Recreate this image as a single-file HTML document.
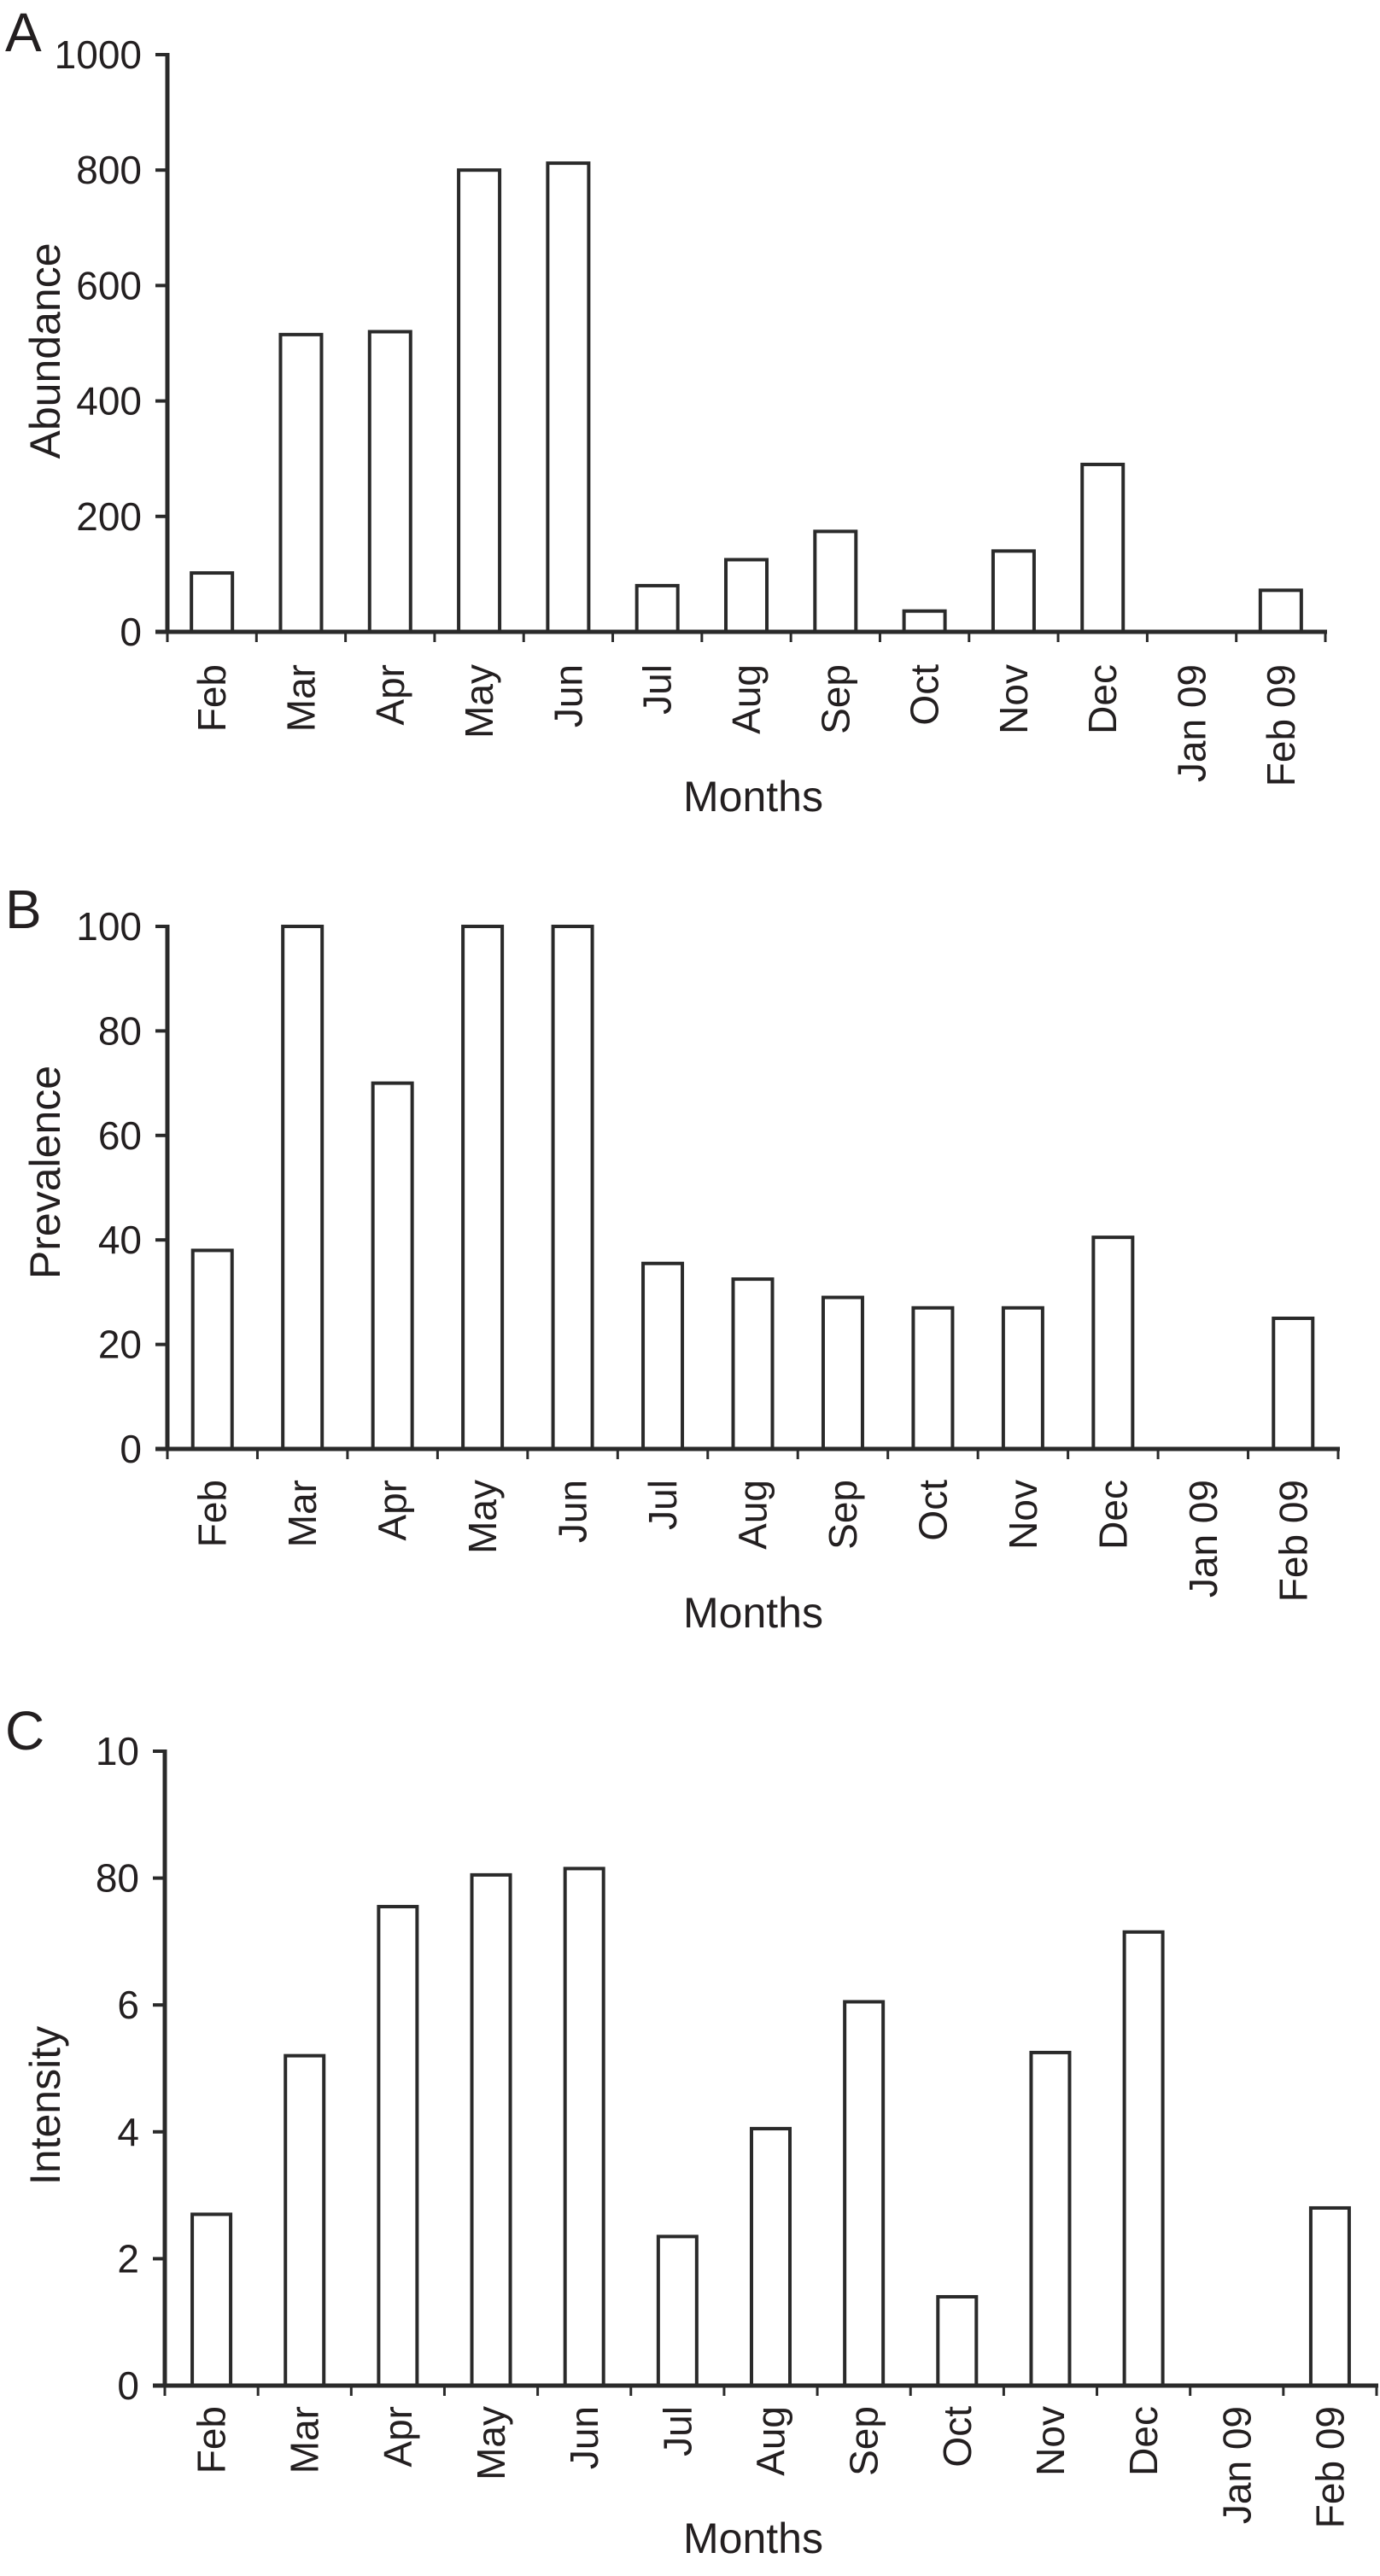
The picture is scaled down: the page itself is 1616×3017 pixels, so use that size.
<!DOCTYPE html>
<html><head><meta charset="utf-8"><style>
html,body{margin:0;padding:0;background:#fff}
svg{display:block}
text{font-family:"Liberation Sans",Arial,sans-serif;fill:#231f20}
</style></head><body>
<svg id="chart" width="1616" height="3017" viewBox="0 0 1616 3017" xmlns="http://www.w3.org/2000/svg"></svg>
<script>
const months = ["Feb","Mar","Apr","May","Jun","Jul","Aug","Sep","Oct","Nov","Dec","Jan 09","Feb 09"];
const abundance = [102,515,520,800,812,80,125,174,36,140,290,0,72];
const prevalence = [38,100,70,100,100,35.5,32.5,29,27,27,40.5,0,25];
const intensity = [2.7,5.2,7.55,8.05,8.15,2.35,4.05,6.05,1.4,5.25,7.15,0,2.8];
const ticksA = [0,200,400,600,800,1000];
const tickLabelsA = ["0","200","400","600","800","1000"];
const ticksB = [0,20,40,60,80,100];
const tickLabelsB = ["0","20","40","60","80","100"];
const ticksC = [0,2,4,6,8,10];
const tickLabelsC = ["0","2","4","6","80","10"];

const NS = "http://www.w3.org/2000/svg";
const svg = document.getElementById("chart");
function mk(tag, attrs, parent){
  const e = document.createElementNS(NS, tag);
  for (const k in attrs) e.setAttribute(k, attrs[k]);
  (parent || svg).appendChild(e);
  return e;
}

function panel(p){
  const g = mk("g", {});
  
  
  const n = months.length;
  const cw = (p.x1 - p.x0) / n;
  const xs = i => p.x0 + cw * (i + 0.5);
  const ys = v => p.yb - (v - p.vmin) / (p.vmax - p.vmin) * (p.yb - p.yt);

  const letter = mk("text", {x: 6, y: p.letterY, "font-size": 64}, g);
  letter.textContent = p.letter;
  
  

  p.values.forEach((v, i) => {
    if (v <= 0) return;
    const r = mk("rect", {x: xs(i) - p.bw/2, y: ys(v), width: p.bw, height: p.yb - ys(v), fill: "#fff", stroke: "#2a2a2a", "stroke-width": 4}, g);
    
    
  });

  const ya = mk("line", {x1: p.x0, y1: ys(p.vmax) - 2, x2: p.x0, y2: p.yb + 2, stroke: "#2a2a2a", "stroke-width": 5}, g);
  
  
  p.ticks.forEach((t, i) => {
    const y = ys(t);
    const tk = mk("line", {x1: p.x0 - 14, y1: y, x2: p.x0, y2: y, stroke: "#2a2a2a", "stroke-width": 4}, g);
    
    
    const tl = mk("text", {x: p.x0 - 30, y: y + 16, "font-size": 46, "text-anchor": "end"}, g);
    tl.textContent = p.tickLabels[i];
    
    
  });

  const xa = mk("line", {x1: p.x0 - 14, y1: p.yb, x2: p.x1 + 2, y2: p.yb, stroke: "#2a2a2a", "stroke-width": 5}, g);
  
  
  for (let i = 0; i <= n; i++) {
    const x = p.x0 + cw * i;
    const tk = mk("line", {x1: x, y1: p.yb, x2: x, y2: p.yb + 12, stroke: "#2a2a2a", "stroke-width": 3}, g);
    
    
  }
  months.forEach((m, i) => {
    const x = xs(i) + 16, y = p.yb + p.labGap;
    const tl = mk("text", {x: x, y: y, "font-size": 46, "text-anchor": "end", transform: "rotate(-90 " + x + " " + y + ")"}, g);
    tl.textContent = m;
    
    
  });

  const xt = mk("text", {x: 882, y: p.xtY, "font-size": 50, "text-anchor": "middle"}, g);
  xt.textContent = "Months";
  
  

  const yx = 70, yy = p.ytY;
  const yt = mk("text", {x: yx, y: yy, "font-size": 50, "text-anchor": "middle", transform: "rotate(-90 " + yx + " " + yy + ")"}, g);
  yt.textContent = p.ytitle;
  
  
}

panel({key:"a", letter:"A", letterY:60, values:abundance, ticks:ticksA, tickLabels:tickLabelsA, vmin:0, vmax:1000,
  x0:196, x1:1552, yt:64, yb:740, bw:48, labGap:38, xtY:950, ytitle:"Abundance", ytY:411});
panel({key:"b", letter:"B", letterY:1087, values:prevalence, ticks:ticksB, tickLabels:tickLabelsB, vmin:0, vmax:100,
  x0:196, x1:1567, yt:1085, yb:1697, bw:46, labGap:36, xtY:1906, ytitle:"Prevalence", ytY:1373});
panel({key:"c", letter:"C", letterY:2049, values:intensity, ticks:ticksC, tickLabels:tickLabelsC, vmin:0, vmax:10,
  x0:193, x1:1612, yt:2051, yb:2794, bw:45, labGap:24, xtY:2990, ytitle:"Intensity", ytY:2466});
</script>
</body></html>
